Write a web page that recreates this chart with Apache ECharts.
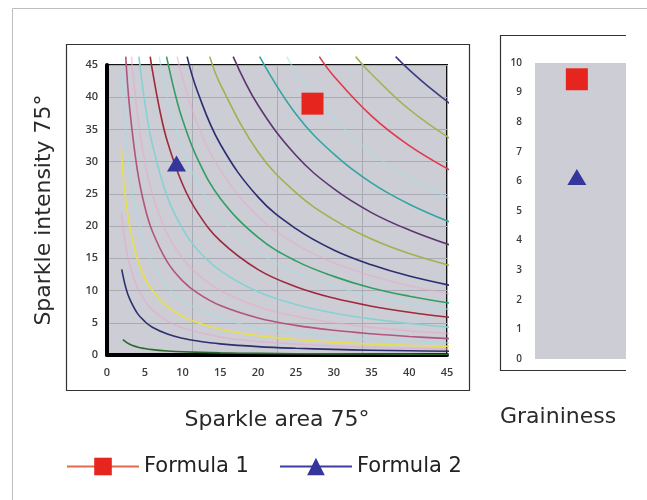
<!DOCTYPE html>
<html>
<head>
<meta charset="utf-8">
<script src="https://cdn.jsdelivr.net/npm/echarts@6/dist/echarts.min.js"></script>
<style>
html, body { margin: 0; padding: 0; background: #fff; }
#chart { width: 647px; height: 500px; }
</style>
</head>
<body>
<div id="chart"></div>
<script>
// ── contour lines as [sparkle area, sparkle intensity] ──
const lineDarkGreen = [[2.1, 2.4], [3, 1.67], [4, 1.25], [5, 1.0], [6, 0.83], [8, 0.63], [10, 0.5], [15, 0.33], [20, 0.25], [30, 0.17], [40, 0.13], [46.3, 0.11]]
const lineNavyLow = [[1.95, 13.3], [2.5, 10.4], [3, 8.7], [4, 6.5], [5, 5.2], [6, 4.3], [8, 3.25], [10, 2.6], [12, 2.17], [15, 1.73], [20, 1.3], [25, 1.04], [30, 0.87], [35, 0.74], [40, 0.65], [46.3, 0.56]]
const lineYellow = [[1.9, 32], [2.2, 27], [2.5, 24], [3, 20], [4, 15], [5, 12], [6, 10], [8, 7.5], [10, 6], [12, 5], [15, 4], [20, 3], [25, 2.4], [30, 2], [35, 1.71], [40, 1.5], [46.3, 1.3]]
const lineMauve = [[2.48, 46.3], [3, 38.3], [4, 28.8], [5, 23], [6, 19.2], [8, 14.4], [10, 11.5], [12, 9.6], [15, 7.67], [20, 5.75], [25, 4.6], [30, 3.83], [35, 3.29], [40, 2.88], [46.3, 2.48]]
const lineCyan = [[4.23, 46.3], [5, 39.2], [6, 32.7], [8, 24.5], [10, 19.6], [12, 16.3], [15, 13.1], [20, 9.8], [25, 7.84], [30, 6.53], [35, 5.6], [40, 4.9], [46.3, 4.23]]
const lineDarkRed = [[5.72, 46.3], [6, 44.2], [7, 37.9], [8, 33.1], [10, 26.5], [12, 22.1], [15, 17.7], [20, 13.25], [25, 10.6], [30, 8.83], [35, 7.57], [40, 6.63], [46.3, 5.72]]
const lineGreen = [[7.88, 46.3], [9, 40.6], [10, 36.5], [12, 30.4], [15, 24.3], [20, 18.25], [25, 14.6], [30, 12.2], [35, 10.4], [40, 9.13], [46.3, 7.88]]
const lineNavyMid = [[10.6, 46.3], [12, 40.8], [15, 32.7], [20, 24.5], [25, 19.6], [30, 16.3], [35, 14], [40, 12.25], [46.3, 10.6]]
const lineOliveLow = [[13.6, 46.3], [15, 42], [20, 31.5], [25, 25.2], [30, 21], [35, 18], [40, 15.75], [46.3, 13.6]]
const linePurple = [[16.7, 46.3], [20, 38.75], [25, 31], [30, 25.8], [35, 22.1], [40, 19.4], [46.3, 16.7]]
const lineTeal = [[20.2, 46.3], [25, 37.4], [30, 31.2], [35, 26.7], [40, 23.4], [46.3, 20.2]]
const lineRed = [[28.1, 46.3], [30, 43.3], [35, 37.1], [40, 32.5], [46.3, 28.1]]
const lineOliveHigh = [[32.9, 46.3], [35, 43.6], [40, 38.1], [46.3, 32.9]]
const lineNavyHigh = [[38.2, 46.3], [40, 44.25], [43, 41.2], [46.3, 38.2]]

// faint pastel lines in between
const faintPink1 = [[1.9, 22.1], [2.5, 16.8], [3, 14], [4, 10.5], [5, 8.4], [6, 7], [8, 5.25], [10, 4.2], [15, 2.8], [20, 2.1], [30, 1.4], [40, 1.05], [46.3, 0.91]]
const faintCyan1 = [[1.9, 44.7], [2.5, 34], [3, 28.3], [4, 21.3], [5, 17], [6, 14.2], [8, 10.6], [10, 8.5], [12, 7.1], [15, 5.67], [20, 4.25], [25, 3.4], [30, 2.83], [35, 2.43], [40, 2.13], [46.3, 1.84]]
const faintPink2 = [[3.24, 46.3], [4, 37.5], [5, 30], [6, 25], [8, 18.75], [10, 15], [12, 12.5], [15, 10], [20, 7.5], [25, 6], [30, 5], [35, 4.29], [40, 3.75], [46.3, 3.24]]
const faintCyan2 = [[6.91, 46.3], [8, 40], [10, 32], [12, 26.7], [15, 21.3], [20, 16], [25, 12.8], [30, 10.7], [35, 9.14], [40, 8], [46.3, 6.91]]
const faintPink3 = [[9.29, 46.3], [10, 43], [12, 35.8], [15, 28.7], [20, 21.5], [25, 17.2], [30, 14.3], [35, 12.3], [40, 10.75], [46.3, 9.29]]
const faintCyan3 = [[23.8, 46.3], [25, 44], [30, 36.7], [35, 31.4], [40, 27.5], [46.3, 23.8]]

// formula markers
const formula1Sparkle = [[27.2, 39.0]]
const formula2Sparkle = [[9.2, 29.7]]
const formula1Grain = [[0.46, 9.45]]
const formula2Grain = [[0.46, 6.15]]

const contours = [
    [lineDarkGreen, '#2c6a2c'], [lineNavyLow, '#2e2f6e'], [lineYellow, '#e6e04a'],
    [lineMauve, '#b0557e'], [lineCyan, '#86d2d2'], [lineDarkRed, '#9c2a3a'],
    [lineGreen, '#2f9f63'], [lineNavyMid, '#2c2d70'], [lineOliveLow, '#a3b04c'],
    [linePurple, '#5d3470'], [lineTeal, '#32a6a2'], [lineRed, '#e2384a'],
    [lineOliveHigh, '#a6b456'], [lineNavyHigh, '#3b3c82'],
]
const faint = [
    [faintPink1, '#e9a6c6'], [faintCyan1, '#9fe0e4'], [faintPink2, '#eba8c8'],
    [faintCyan2, '#a3e2e2'], [faintPink3, '#eaa9c8'], [faintCyan3, '#a3e2e2'],
]

const FONT = '"Open Sans", "Noto Sans", sans-serif'
const TITLE_FONT = '"DejaVu Sans", Verdana, sans-serif'
const plotBg = '#cdcdd6'

const series = []
faint.forEach(([data, color]) => series.push({
    type: 'line', data, smooth: 0.4, showSymbol: false, clip: false, silent: true,
    lineStyle: { color, width: 1.6, opacity: 0.55 },
}))
contours.forEach(([data, color]) => series.push({
    type: 'line', data, smooth: 0.4, showSymbol: false, clip: false, silent: true,
    lineStyle: { color, width: 1.6 },
}))

const f1Style = {
    type: 'line', name: 'Formula 1', symbol: 'rect', symbolSize: 22, clip: false,
    itemStyle: { color: '#e6261e' }, lineStyle: { color: '#e4684f', width: 1.5 },
}
const f2Style = {
    type: 'line', name: 'Formula 2', symbol: 'triangle', symbolSize: [19, 16], clip: false,
    itemStyle: { color: '#34369c' }, lineStyle: { color: '#3b3da2', width: 1.5 },
}
series.push({ ...f1Style, data: formula1Sparkle, xAxisIndex: 0, yAxisIndex: 0 })
series.push({ ...f2Style, data: formula2Sparkle, xAxisIndex: 0, yAxisIndex: 0 })
series.push({ ...f1Style, data: formula1Grain, xAxisIndex: 2, yAxisIndex: 1 })
series.push({ ...f2Style, data: formula2Grain, xAxisIndex: 2, yAxisIndex: 1 })

const axisLabel = { color: '#3a3a3a', fontSize: 11, fontWeight: 600, fontFamily: FONT }

const chart = echarts.init(document.getElementById('chart'))
chart.setOption({
    animation: false,
    backgroundColor: '#fff',
    grid: [
        { left: 107, top: 65, width: 340, height: 290, show: true, backgroundColor: plotBg, borderColor: '#111', borderWidth: 2 },
        { left: 535, top: 63, width: 91, height: 296, show: true, backgroundColor: plotBg, borderWidth: 0 },
    ],
    xAxis: [
        {
            gridIndex: 0, type: 'value', min: 0, max: 45, interval: 5,
            name: 'Sparkle area 75°', nameLocation: 'middle', nameGap: 54,
            nameTextStyle: { fontFamily: TITLE_FONT, fontSize: 22, color: '#2a2a2a' },
            axisLine: { lineStyle: { color: '#000', width: 4 } },
            axisTick: { show: false },
            axisLabel: { ...axisLabel, margin: 12 },
            splitLine: { show: false },
        },
        {
            // vertical grid lines every 10
            gridIndex: 0, type: 'value', min: 0, max: 40, interval: 10, position: 'top',
            axisLine: { show: false }, axisTick: { show: false }, axisLabel: { show: false },
            splitLine: { show: true, lineStyle: { color: '#a9aab4', width: 1 } },
        },
        { gridIndex: 1, type: 'value', min: 0, max: 1, show: false },
    ],
    yAxis: [
        {
            gridIndex: 0, type: 'value', min: 0, max: 45, interval: 5,
            name: 'Sparkle intensity 75°', nameLocation: 'middle', nameGap: 52,
            nameTextStyle: { fontFamily: TITLE_FONT, fontSize: 22, color: '#2a2a2a' },
            axisLine: { show: true, lineStyle: { color: '#000', width: 4 } },
            axisTick: { show: false },
            axisLabel: { ...axisLabel, margin: 9 },
            splitLine: { lineStyle: { color: '#a9aab4', width: 1 } },
        },
        {
            gridIndex: 1, type: 'value', min: 0, max: 10, interval: 1,
            axisLine: { show: false }, axisTick: { show: false },
            axisLabel: { ...axisLabel, fontSize: 10, margin: 13 },
            splitLine: { show: false },
        },
    ],
    legend: {
        data: ['Formula 1', 'Formula 2'],
        left: 66, top: 456, padding: 0, itemWidth: 72, itemHeight: 22, itemGap: 30,
        textStyle: { fontFamily: TITLE_FONT, fontSize: 21, color: '#222' },
    },
    graphic: [
        { type: 'line', silent: true, shape: { x1: 12.5, y1: 8.5, x2: 647, y2: 8.5 }, style: { stroke: '#bdbdbd', lineWidth: 1 } },
        { type: 'line', silent: true, shape: { x1: 12.5, y1: 8.5, x2: 12.5, y2: 500 }, style: { stroke: '#bdbdbd', lineWidth: 1 } },
        { type: 'rect', silent: true, shape: { x: 66.5, y: 44.5, width: 403, height: 346 }, style: { fill: null, stroke: '#333', lineWidth: 1.2 } },
        { type: 'polyline', silent: true, shape: { points: [[626, 35.5], [500.5, 35.5], [500.5, 370.5], [626, 370.5]] }, style: { fill: null, stroke: '#333', lineWidth: 1.2 } },
        {
            type: 'text', silent: true, left: 500, top: 406,
            style: { text: 'Graininess', font: '22px ' + TITLE_FONT, fill: '#2a2a2a' },
        },
    ],
    series,
})
</script>
</body>
</html>
